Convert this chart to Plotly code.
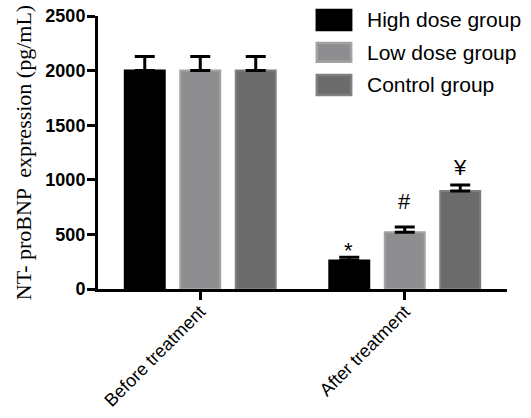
import plotly.graph_objects as go

categories = ["Before treatment", "After treatment"]
groups = ["High dose group", "Low dose group", "Control group"]
high_vals = [2000, 260]
low_vals = [2000, 520]
ctrl_vals = [2000, 897]
high_err = [130, 30]
low_err = [130, 48]
ctrl_err = [130, 55]
marks = ["*", "#", "¥"]

fills = ["#000000", "#8e8e91", "#6b6b6b"]
edges = ["#000000", "#a3a3a5", "#7f7f7f"]

fig = go.Figure()
for name, vals, err, fc, ec in zip(groups, [high_vals, low_vals, ctrl_vals],
                                    [high_err, low_err, ctrl_err], fills, edges):
    fig.add_trace(go.Bar(
        x=categories, y=vals, name=name,
        marker=dict(color=fc, line=dict(color=ec, width=2)),
        error_y=dict(type="data", symmetric=False, array=err,
                     arrayminus=[0] * len(err), color="black",
                     thickness=3, width=10),
        showlegend=False, hoverinfo="skip",
    ))

# significance marks over "After treatment"
shifts = [-56, 0, 55]
after_vals = [high_vals[1], low_vals[1], ctrl_vals[1]]
after_errs = [high_err[1], low_err[1], ctrl_err[1]]
yshifts = [-8, 11, 3]
for m, s, v, e, ys in zip(marks, shifts, after_vals, after_errs, yshifts):
    fig.add_annotation(x=categories[1], y=v + e, text=m, showarrow=False,
                       xshift=s, yshift=ys, yanchor="bottom",
                       font=dict(family="Liberation Sans, Arial", size=22,
                                 color="black"))

# legend drawn manually (large swatches)
leg_y = [(0.949, 1.022), (0.832, 0.901), (0.711, 0.784)]
for (y0, y1), fc, ec, name in zip(leg_y, fills, edges, groups):
    fig.add_shape(type="rect", xref="paper", yref="paper",
                  x0=0.535, x1=0.619, y0=y0, y1=y1,
                  fillcolor=fc, line=dict(color=ec, width=2.5))
    fig.add_annotation(xref="paper", yref="paper", x=0.652, y=(y0 + y1) / 2,
                       text=name, showarrow=False, xanchor="left",
                       yanchor="middle",
                       font=dict(family="Liberation Sans, Arial", size=21,
                                 color="black"))

fig.update_layout(
    width=531, height=418,
    margin=dict(l=98, r=24, t=16, b=129, autoexpand=False),
    paper_bgcolor="white", plot_bgcolor="white",
    barmode="group", bargap=0.186, bargroupgap=0.28,
)
fig.update_xaxes(
    automargin=False,
    showline=True, linecolor="black", linewidth=3,
    ticks="outside", ticklen=8, tickwidth=3, tickcolor="black",
    tickangle=-45, ticklabelstandoff=-6,
    tickfont=dict(family="Liberation Sans, Arial", size=18, color="black"),
    range=[-0.5, 1.5],
)
fig.update_yaxes(
    automargin=False,
    range=[0, 2500], tickvals=[0, 500, 1000, 1500, 2000, 2500],
    showline=True, linecolor="black", linewidth=3,
    ticks="outside", ticklen=8, tickwidth=3, tickcolor="black",
    ticklabelstandoff=-2,
    showgrid=False, zeroline=False,
    tickfont=dict(family="Liberation Sans, Arial", size=18, color="black",
                  weight="bold"),
    title=dict(text="NT- proBNP  expression (pg/mL)", standoff=8,
               font=dict(family="Liberation Serif, Times New Roman", size=22,
                         color="black")),
)

fig.write_html("out.html",
               config={"displayModeBar": False},
               post_script="document.body.style.margin='0px';")
